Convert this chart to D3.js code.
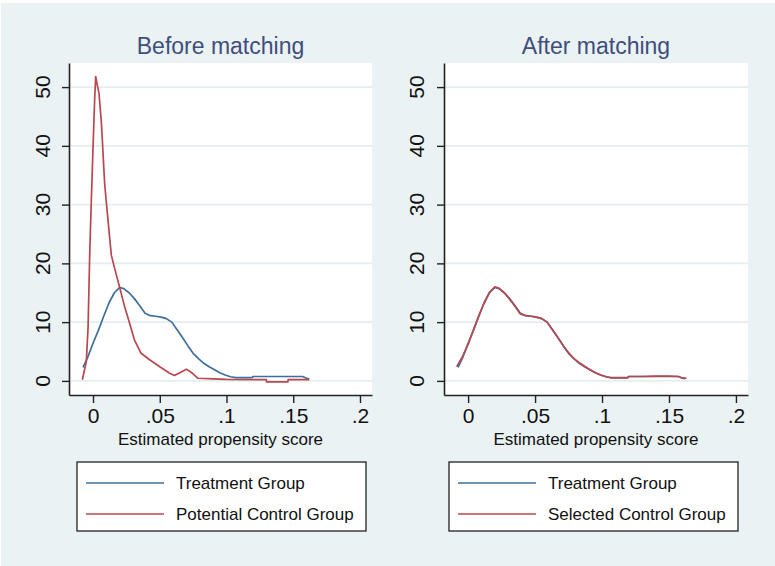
<!DOCTYPE html>
<html>
<head>
<meta charset="utf-8">
<script src="https://cdn.jsdelivr.net/npm/d3@7"></script>
<style>
  html, body { margin: 0; padding: 0; background: #ffffff; }
  svg { display: block; }
  text { font-family: "Liberation Sans", Arial, sans-serif; }
</style>
</head>
<body>
<svg id="chart" width="775" height="566"></svg>
<script>
// ---------------- data ----------------
const panelTitles = ["Before matching", "After matching"];
const xAxisTitle = "Estimated propensity score";
const xTickValues = [0, 0.05, 0.1, 0.15, 0.2];
const xTickLabels = ["0", ".05", ".1", ".15", ".2"];
const yTickValues = [0, 10, 20, 30, 40, 50];
const yTickLabels = ["0", "10", "20", "30", "40", "50"];

// Treatment group density (same in both panels)
const treatX = [-0.0075, -0.004, 0.0, 0.004, 0.008, 0.012, 0.016, 0.020, 0.023, 0.027, 0.031, 0.035,
  0.039, 0.043, 0.047, 0.051, 0.055, 0.059, 0.063, 0.067, 0.071, 0.075, 0.079, 0.083, 0.087, 0.091,
  0.095, 0.099, 0.103, 0.107, 0.112, 0.119, 0.120, 0.130, 0.140, 0.150, 0.157, 0.160, 0.162];
const treatY = [2.3, 4.0, 6.4, 8.6, 11.0, 13.3, 15.0, 15.9, 15.7, 15.0, 14.0, 12.8,
  11.5, 11.1, 11.0, 10.85, 10.6, 10.0, 8.7, 7.4, 6.0, 4.7, 3.8, 3.0, 2.4, 1.9,
  1.4, 1.0, 0.7, 0.55, 0.55, 0.55, 0.75, 0.75, 0.75, 0.75, 0.75, 0.45, 0.4];

// Potential control group density (before matching)
const potX = [-0.008, -0.005, -0.0037, -0.0025, -0.0012, 0.0, 0.0012, 0.002, 0.003, 0.0045, 0.0063,
  0.0087, 0.0112, 0.0137, 0.0175, 0.020, 0.0237, 0.0274, 0.031, 0.036, 0.0424, 0.050, 0.0574, 0.061,
  0.065, 0.070, 0.0745, 0.0786, 0.090, 0.100, 0.1298, 0.1300, 0.1460, 0.1462, 0.162];
const potY = [0.2, 3.3, 9.2, 21.4, 31.3, 39.6, 47.8, 51.8, 50.6, 48.9, 43.8,
  33.6, 27.4, 21.4, 18.0, 15.9, 12.6, 9.8, 7.0, 4.7, 3.6, 2.4, 1.3, 0.9,
  1.4, 2.0, 1.3, 0.45, 0.35, 0.25, 0.2, -0.15, -0.15, 0.2, 0.2];

// Selected control group density (after matching)
const selX = [-0.0085, -0.004, 0.0, 0.004, 0.008, 0.012, 0.016, 0.020, 0.023, 0.027, 0.031, 0.035,
  0.039, 0.043, 0.047, 0.051, 0.055, 0.059, 0.063, 0.067, 0.071, 0.075, 0.079, 0.083, 0.087, 0.091,
  0.095, 0.099, 0.103, 0.107, 0.112, 0.119, 0.120, 0.130, 0.140, 0.150, 0.157, 0.160, 0.163];
const selY = [2.4, 4.2, 6.2, 8.7, 11.1, 13.3, 15.1, 16.0, 15.8, 15.0, 13.9, 12.7,
  11.4, 11.1, 11.0, 10.85, 10.6, 10.0, 8.7, 7.4, 6.0, 4.8, 3.8, 3.1, 2.5, 1.9,
  1.4, 1.0, 0.7, 0.5, 0.5, 0.5, 0.75, 0.75, 0.8, 0.8, 0.75, 0.5, 0.45];

const legendLabels = [
  ["Treatment Group", "Potential Control Group"],
  ["Treatment Group", "Selected Control Group"]
];

// ---------------- styles ----------------
const BG = "#eaf2f3";
const GRID = "#e4eef0";
const BLUE = "#3d6f9c";
const RED = "#b8484e";
const TITLE_COLOR = "#3f4e7d";

const svg = d3.select("#chart");
svg.append("rect").attr("x", 1).attr("y", 3).attr("width", 774).attr("height", 563).attr("fill", BG);

const panels = [
  { left: 69, right: 372, yLabelX: 42, legendX: 77,
    series: [{ xs: treatX, ys: treatY, color: BLUE }, { xs: potX, ys: potY, color: RED }] },
  { left: 444, right: 748, yLabelX: 416, legendX: 449,
    series: [{ xs: treatX, ys: treatY, color: BLUE }, { xs: selX, ys: selY, color: RED }] }
];
const plotTop = 63, plotBottom = 395;

panels.forEach((p, i) => {
  const g = svg.append("g");
  const x = d3.scaleLinear().domain([-0.018, 0.209]).range([p.left, p.right]);
  const y = d3.scaleLinear().domain([-2.4, 54.1]).range([plotBottom, plotTop]);

  // plot region
  g.append("rect").attr("x", p.left).attr("y", plotTop)
    .attr("width", p.right - p.left).attr("height", plotBottom - plotTop).attr("fill", "#ffffff");

  // gridlines
  g.selectAll(".grid").data(yTickValues).enter().append("line")
    .attr("x1", p.left).attr("x2", p.right)
    .attr("y1", d => y(d)).attr("y2", d => y(d))
    .attr("stroke", GRID).attr("stroke-width", 1.6);

  // title
  g.append("text").attr("x", (p.left + p.right) / 2).attr("y", 54)
    .attr("text-anchor", "middle").attr("font-size", 23).attr("fill", TITLE_COLOR)
    .text(panelTitles[i]);

  // lines
  const line = d3.line().x(d => x(d[0])).y(d => y(d[1]));
  p.series.forEach(s => {
    g.append("path").datum(s.xs.map((v, k) => [v, s.ys[k]]))
      .attr("d", line).attr("fill", "none").attr("stroke", s.color)
      .attr("stroke-width", 1.7).attr("stroke-linejoin", "round");
  });

  // y axis
  const ya = g.append("g").attr("transform", `translate(${p.left},0)`)
    .call(d3.axisLeft(y).tickValues(yTickValues).tickSize(7).tickSizeOuter(0).tickFormat(""));
  ya.select(".domain").attr("stroke", "#222").attr("stroke-width", 1.6);
  ya.selectAll(".tick line").attr("stroke", "#222").attr("stroke-width", 1.4);
  g.selectAll(".ylab").data(yTickValues).enter().append("text")
    .attr("transform", d => `translate(${p.yLabelX},${y(d)}) rotate(-90)`)
    .attr("text-anchor", "middle").attr("dy", "0.36em")
    .attr("font-size", 21).attr("fill", "#111")
    .text((d, k) => yTickLabels[k]);

  // x axis
  const xa = g.append("g").attr("transform", `translate(0,${plotBottom})`)
    .call(d3.axisBottom(x).tickValues(xTickValues).tickSize(8).tickSizeOuter(0)
      .tickFormat((d, k) => xTickLabels[k]));
  xa.select(".domain").attr("stroke", "#222").attr("stroke-width", 1.6);
  xa.selectAll(".tick line").attr("stroke", "#222").attr("stroke-width", 1.4);
  xa.selectAll(".tick text").attr("font-size", 21).attr("fill", "#111")
    .attr("font-family", "Liberation Sans, Arial, sans-serif").attr("y", 13).attr("dy", "0.71em");

  g.append("text").attr("x", (p.left + p.right) / 2).attr("y", 445)
    .attr("text-anchor", "middle").attr("font-size", 17).attr("fill", "#111")
    .text(xAxisTitle);

  // legend
  const lg = g.append("g").attr("transform", `translate(${p.legendX},462)`);
  lg.append("rect").attr("x", 0).attr("y", 0).attr("width", 289).attr("height", 69)
    .attr("fill", "#ffffff").attr("stroke", "#222").attr("stroke-width", 1.3);
  [BLUE, RED].forEach((c, k) => {
    const yy = 21 + k * 31;
    lg.append("line").attr("x1", 9).attr("x2", 87).attr("y1", yy).attr("y2", yy)
      .attr("stroke", c).attr("stroke-width", 1.7);
    lg.append("text").attr("x", 99).attr("y", yy).attr("dy", "0.36em")
      .attr("font-size", 17).attr("fill", "#111").text(legendLabels[i][k]);
  });
});
</script>
</body>
</html>
